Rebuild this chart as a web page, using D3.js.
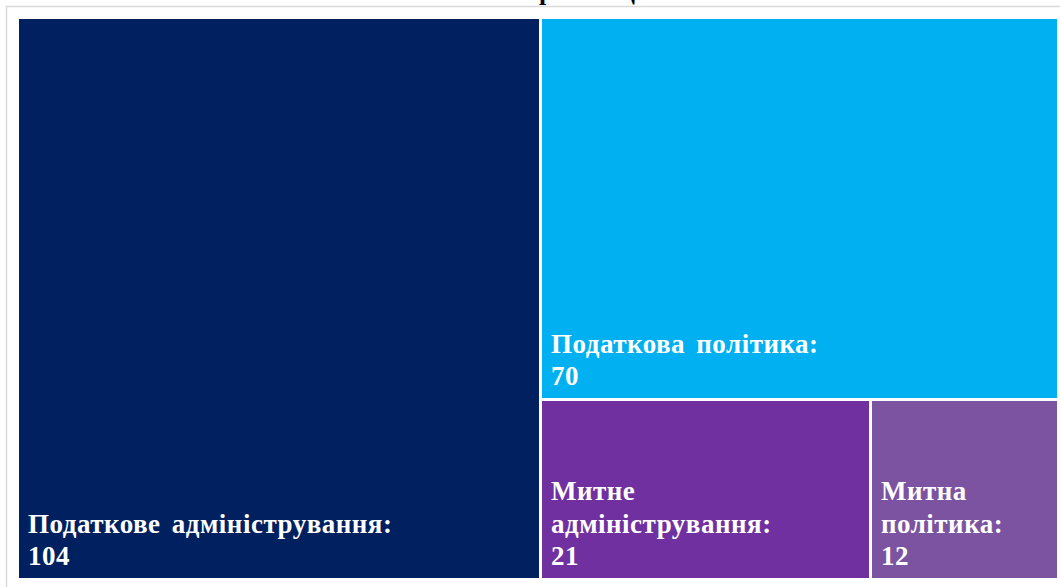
<!DOCTYPE html>
<html>
<head>
<meta charset="utf-8">
<script src="https://cdn.jsdelivr.net/npm/d3@7"></script>
<style>
  html, body { margin: 0; padding: 0; background: #fff; overflow: hidden; }
  svg { display: block; }
</style>
</head>
<body>
<svg id="chart" width="1060" height="587"></svg>
<script>
// data
var categories = ["Податкове адміністрування", "Податкова політика", "Митне адміністрування", "Митна політика"];
var values = [104, 70, 21, 12];
var colors = ["#002060", "#00B0F0", "#7030A0", "#7C53A0"];
var title = "Кількість пропозицій";

var serif = "'Liberation Serif', 'Times New Roman', serif";
var svg = d3.select("#chart");

// frame (runs past the window on right and bottom)
svg.append("rect").attr("x", 6.5).attr("y", 6.5).attr("width", 1080).attr("height", 600)
  .attr("fill", "#fff").attr("stroke", "#d9d9d9").attr("stroke-width", 1.5);

// title, mostly cut off at the top
svg.append("text").attr("x", 530).attr("y", 0).attr("text-anchor", "middle")
  .style("font-family", serif).style("font-weight", "bold")
  .attr("font-size", 26).attr("fill", "#000").text(title);

var root = d3.hierarchy({children: categories.map(function(c, i){ return {name: c, value: values[i], color: colors[i]}; })})
  .sum(function(d){ return d.value || 0; })
  .sort(function(a, b){ return b.value - a.value; });

var ox = 19, oy = 19;
d3.treemap().tile(d3.treemapSquarify).size([1038, 559]).paddingInner(3).round(true)(root);

var plot = svg.append("g").attr("transform", "translate(" + ox + "," + oy + ")");
var cell = plot.selectAll(".cell").data(root.leaves()).enter().append("g").attr("class", "cell");

cell.append("rect")
  .attr("x", function(d){ return d.x0; })
  .attr("y", function(d){ return d.y0; })
  .attr("width", function(d){ return d.x1 - d.x0; })
  .attr("height", function(d){ return d.y1 - d.y0; })
  .attr("fill", function(d){ return d.data.color; });

// labels: wrapped words, bottom aligned
var fontSize = 27, lineH = 32.5, padX = 9, padB = 13;
function styleText(t) {
  return t.style("font-family", serif).style("font-weight", "bold")
    .attr("font-size", fontSize).attr("word-spacing", 4).attr("letter-spacing", 0.5);
}
cell.each(function(d){
  var g = d3.select(this);
  var maxW = d.x1 - d.x0 - 2 * padX;
  var words = (d.data.name + ":").split(" ");
  var lines = [], cur = "";
  var probe = styleText(g.append("text"));
  words.forEach(function(w){
    var t = cur ? cur + " " + w : w;
    probe.text(t);
    if (cur && probe.node().getComputedTextLength() > maxW) { lines.push(cur); cur = w; }
    else cur = t;
  });
  lines.push(cur);
  probe.remove();
  lines.push(String(d.data.value));
  var baseY = d.y1 - padB;
  var txt = styleText(g.append("text")).attr("fill", "#fff");
  lines.forEach(function(l, i){
    txt.append("tspan").attr("x", d.x0 + padX)
      .attr("y", baseY - (lines.length - 1 - i) * lineH).text(l);
  });
});
</script>
</body>
</html>
